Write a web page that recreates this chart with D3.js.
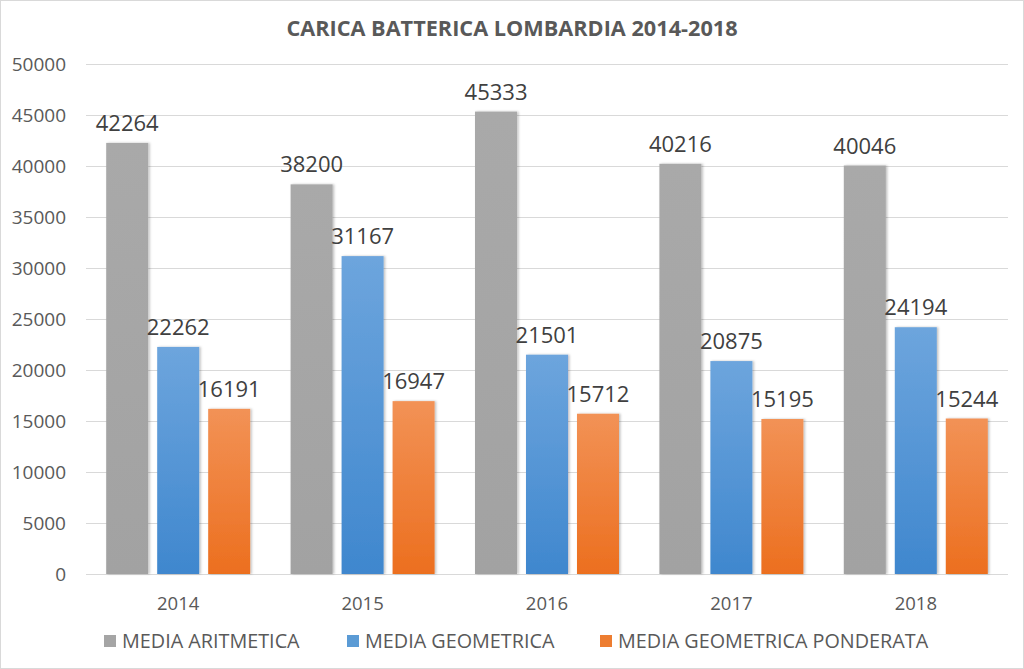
<!DOCTYPE html>
<html>
<head>
<meta charset="utf-8">
<script src="https://cdn.jsdelivr.net/npm/d3@7"></script>
<style>
  html, body { margin: 0; padding: 0; background: #fff; }
  svg { display: block; }
</style>
</head>
<body>
<svg id="chart" width="1024" height="669"></svg>
<script>
const years = ["2014", "2015", "2016", "2017", "2018"];
const seriesNames = ["MEDIA ARITMETICA", "MEDIA GEOMETRICA", "MEDIA GEOMETRICA PONDERATA"];
const mediaAritmetica = [42264, 38200, 45333, 40216, 40046];
const mediaGeometrica = [22262, 31167, 21501, 20875, 24194];
const mediaGeometricaPonderata = [16191, 16947, 15712, 15195, 15244];
const yTicks = [0, 5000, 10000, 15000, 20000, 25000, 30000, 35000, 40000, 45000, 50000];
const title = "CARICA BATTERICA LOMBARDIA 2014-2018";

const seriesValues = [mediaAritmetica, mediaGeometrica, mediaGeometricaPonderata];
const colorsTop = ["#a9a9a9", "#6da5dd", "#f29256"];
const colorsBottom = ["#a2a2a2", "#3f87ce", "#ec6f1f"];
const legendColors = ["#a5a5a5", "#5b9bd5", "#ed7d31"];

const W = 1024, H = 669;
const svg = d3.select("#chart");
const font = "'Open Sans', 'DejaVu Sans', sans-serif";
const textColor = "#595959";

// border
svg.append("rect").attr("x", 0.5).attr("y", 0.5).attr("width", W - 1).attr("height", H - 1)
  .attr("fill", "#fff").attr("stroke", "#d9d9d9");

const plot = { left: 86, right: 1008, top: 64, bottom: 574 };

const y = d3.scaleLinear().domain([0, 50000]).range([plot.bottom, plot.top]);
const x0 = d3.scaleBand().domain(years).range([plot.left, plot.right]).padding(0);
const x1 = d3.scaleBand().domain(seriesNames).range([0, 144]).paddingInner(0.176).paddingOuter(0);
const groupOffset = (x0.bandwidth() - 144) / 2;

const defs = svg.append("defs");
seriesNames.forEach((s, i) => {
  const g = defs.append("linearGradient").attr("id", "grad" + i)
    .attr("x1", 0).attr("y1", 0).attr("x2", 0).attr("y2", 1);
  g.append("stop").attr("offset", "0%").attr("stop-color", colorsTop[i]);
  g.append("stop").attr("offset", "100%").attr("stop-color", colorsBottom[i]);
});
const filt = defs.append("filter").attr("id", "shadow").attr("x", "-20%").attr("y", "-5%").attr("width", "140%").attr("height", "110%");
filt.append("feDropShadow").attr("dx", 1.5).attr("dy", 0).attr("stdDeviation", 1.2).attr("flood-color", "#000").attr("flood-opacity", 0.25);

// gridlines
svg.append("g").selectAll("line").data(yTicks).join("line")
  .attr("x1", plot.left).attr("x2", plot.right)
  .attr("y1", d => Math.round(y(d)) + 0.5).attr("y2", d => Math.round(y(d)) + 0.5)
  .attr("stroke", "#d9d9d9").attr("stroke-width", 1);

// y axis labels
const yAxis = d3.axisLeft(y).tickValues(yTicks).tickSize(0).tickPadding(0).tickFormat(d3.format("d"));
const yg = svg.append("g").attr("transform", `translate(66,0)`).call(yAxis);
yg.select(".domain").remove();
yg.selectAll("text").attr("font-family", font).attr("font-size", 19).attr("fill", textColor).attr("dy", "0.35em");

// x axis labels
const xAxis = d3.axisBottom(x0).tickSize(0).tickPadding(0);
const xg = svg.append("g").attr("transform", `translate(0,${plot.bottom})`).call(xAxis);
xg.select(".domain").remove();
xg.selectAll("text").attr("font-family", font).attr("font-size", 18.5).attr("fill", textColor)
  .attr("dy", 0).attr("y", 36);

// bars
const groups = svg.append("g").selectAll("g").data(years).join("g")
  .attr("transform", d => `translate(${x0(d) + groupOffset},0)`);

groups.selectAll("rect").data((yr, yi) => seriesNames.map((s, si) => ({ s, si, v: seriesValues[si][yi] })))
  .join("rect")
  .attr("x", d => x1(d.s))
  .attr("width", x1.bandwidth())
  .attr("y", d => y(d.v))
  .attr("height", d => y(0) - y(d.v))
  .attr("fill", d => `url(#grad${d.si})`)
  .attr("filter", "url(#shadow)");

groups.selectAll("text").data((yr, yi) => seriesNames.map((s, si) => ({ s, si, v: seriesValues[si][yi] })))
  .join("text")
  .attr("x", d => x1(d.s) + x1.bandwidth() / 2)
  .attr("y", d => y(d.v) - 12)
  .attr("text-anchor", "middle")
  .attr("font-family", font).attr("font-size", 22).attr("fill", "#404040")
  .text(d => d.v);

// title
svg.append("text").attr("x", 512).attr("y", 36).attr("text-anchor", "middle")
  .attr("font-family", font).attr("font-size", 21.7).attr("font-weight", "bold").attr("fill", textColor)
  .text(title);

// legend
const legendX = [104, 347, 600];
const lg = svg.append("g").selectAll("g").data(seriesNames).join("g")
  .attr("transform", (d, i) => `translate(${legendX[i]},641)`);
lg.append("rect").attr("x", 0).attr("y", -6).attr("width", 12).attr("height", 12)
  .attr("fill", (d, i) => legendColors[i]);
lg.append("text").attr("x", 18).attr("y", 0).attr("dy", "0.35em")
  .attr("font-family", font).attr("font-size", 19.8).attr("fill", textColor)
  .text(d => d);
</script>
</body>
</html>
